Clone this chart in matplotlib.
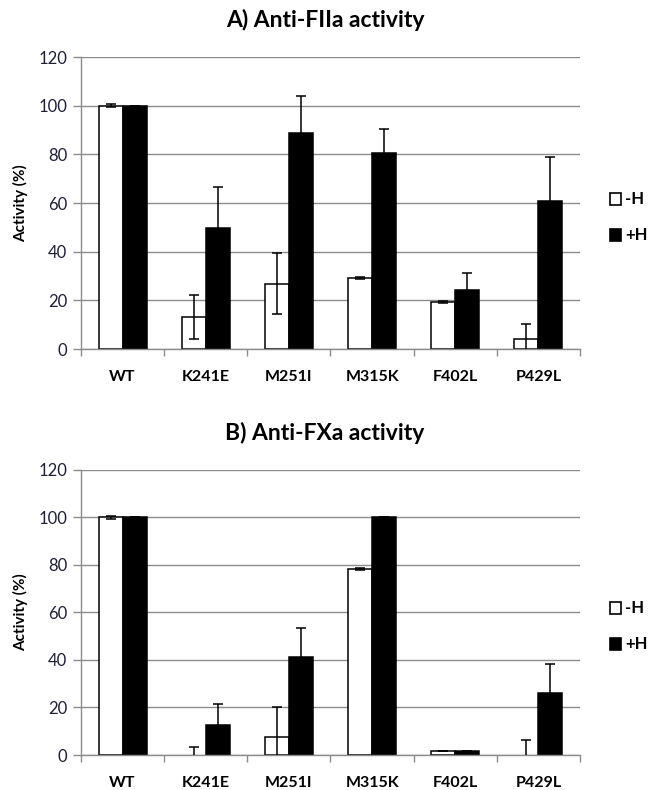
import numpy as np
import matplotlib
matplotlib.use("Agg")
import matplotlib.pyplot as plt
from matplotlib.ticker import MultipleLocator

plt.rcParams['font.family'] = ['Lato', 'DejaVu Sans']

mutants = ['WT', 'K241E', 'M251I', 'M315K', 'F402L', 'P429L']

# A) anti-FIIa activity (%)
fiia_minus = [100, 13, 26.8, 29.2, 19.3, 4.1]
fiia_minus_err = [0.5, 9, 12.5, 0.5, 0.5, 6.3]
fiia_plus = [100, 49.7, 88.9, 80.6, 24.1, 60.8]
fiia_plus_err = [0, 17, 15, 10, 7, 18]

# B) anti-FXa activity (%)
fxa_minus = [100, 0, 7.7, 78.3, 1.7, 0]
fxa_minus_err = [0.5, 3.5, 12.5, 0.5, 0, 6.5]
fxa_plus = [100, 12.5, 41.3, 100, 1.8, 26.2]
fxa_plus_err = [0, 9, 12.3, 0, 0, 12]

grey = '#8c8c8c'
tick_col = '#1f1f3a'

fig = plt.figure(figsize=(6.5, 7.9), dpi=100)
ax1 = fig.add_axes([0.1246, 0.5582, 0.7677, 0.3696])
ax2 = fig.add_axes([0.1246, 0.0443, 0.7677, 0.3608])


def draw_panel(ax, title, title_y, minus, minus_err, plus, plus_err, leg_y):
    x = np.arange(len(mutants))
    w = 0.288
    # zero-height bars leave no outline in the original
    edges = ['black' if v > 0 else 'none' for v in minus]
    ax.bar(x - w / 2, minus, w, color='white', edgecolor=edges, linewidth=1.1, zorder=2)
    ax.bar(x + w / 2, plus, w, color='black', edgecolor='black', linewidth=1.1, zorder=2)
    ax.errorbar(x - w / 2, minus, yerr=minus_err, fmt='none', ecolor='black',
                elinewidth=1.1, capsize=3.8, capthick=1.1, zorder=3)
    ax.errorbar(x + w / 2, plus, yerr=plus_err, fmt='none', ecolor='black',
                elinewidth=1.1, capsize=3.8, capthick=1.1, zorder=3)

    ax.set_xlim(-0.5, len(mutants) - 0.5)
    ax.set_ylim(0, 120)
    ax.yaxis.set_major_locator(MultipleLocator(20))
    ax.set_xticks(x)
    ax.set_xticklabels(mutants, fontweight='bold', fontsize=11.5)
    ax.set_xticks(np.arange(len(mutants) + 1) - 0.5, minor=True)
    ax.tick_params(axis='x', which='major', length=0, pad=15)
    ax.tick_params(axis='x', which='minor', length=5, color=grey, width=1)
    ax.tick_params(axis='y', length=6, color=grey, width=1, labelsize=12,
                   labelcolor=tick_col, pad=4)
    ax.grid(axis='y', color=grey, linewidth=1, zorder=0)
    ax.set_axisbelow(True)
    for s in ['top', 'right']:
        ax.spines[s].set_visible(False)
    for s in ['left', 'bottom']:
        ax.spines[s].set_color(grey)
        ax.spines[s].set_linewidth(1)
    ax.set_ylabel('Activity (%)', fontweight='bold', fontsize=11, labelpad=7)
    fig.text(0.5, title_y, title, ha='center', va='center', fontsize=16.5,
             fontweight='bold')

    # legend
    fig.text(0.962, leg_y, '-H', ha='left', va='center', fontsize=12, fontweight='bold')
    fig.text(0.962, leg_y - 0.0455, '+H', ha='left', va='center', fontsize=12, fontweight='bold')
    fig.patches.append(plt.Rectangle((0.939, leg_y - 0.0075), 0.0165, 0.0145,
                                     transform=fig.transFigure, facecolor='white',
                                     edgecolor='black', linewidth=1.2))
    fig.patches.append(plt.Rectangle((0.939, leg_y - 0.0455 - 0.0075), 0.0165, 0.0145,
                                     transform=fig.transFigure, facecolor='black',
                                     edgecolor='black', linewidth=1.2))


draw_panel(ax1, 'A) Anti-FIIa activity', 1 - 20 / 790, fiia_minus, fiia_minus_err,
           fiia_plus, fiia_plus_err, 1 - 199 / 790)
draw_panel(ax2, 'B) Anti-FXa activity', 1 - 433 / 790, fxa_minus, fxa_minus_err,
           fxa_plus, fxa_plus_err, 1 - 608 / 790)

fig.savefig('out.png', dpi=100)
